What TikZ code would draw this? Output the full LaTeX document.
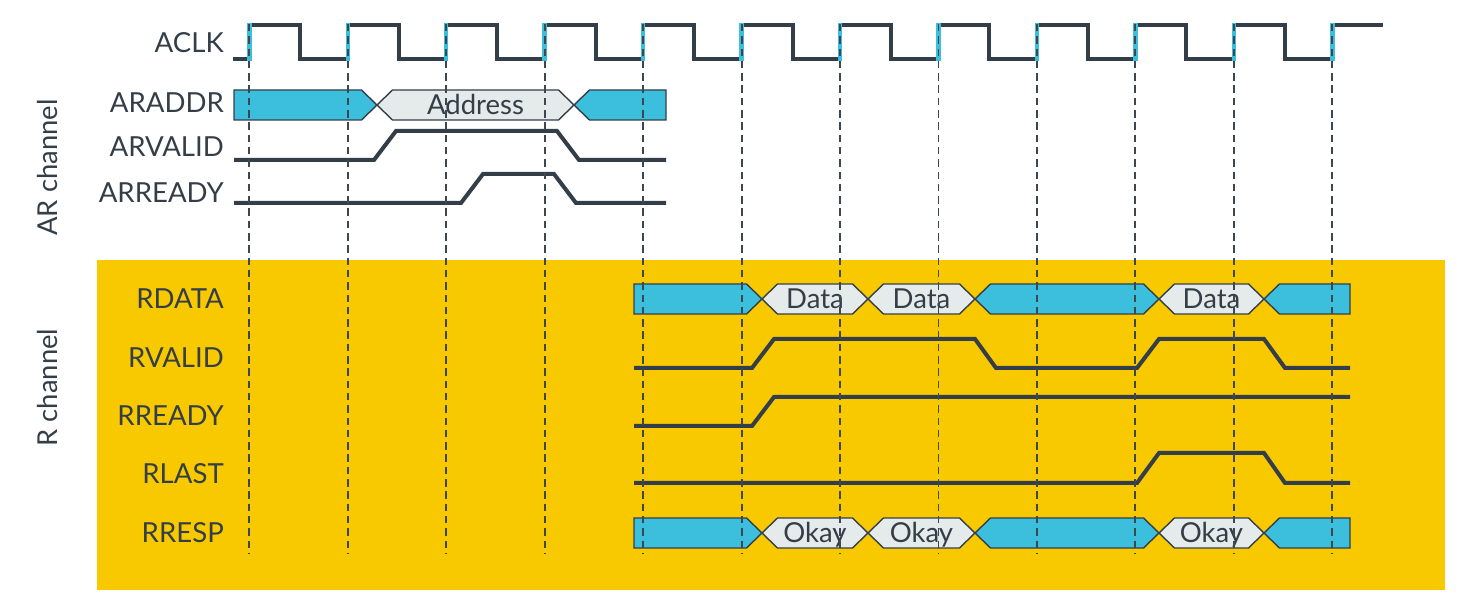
\documentclass[tikz,border=0pt]{standalone}
\usepackage{fontspec}
\setmainfont{Lato}
\definecolor{dark}{HTML}{333E48}
\definecolor{cyanbus}{HTML}{3BBFDD}
\definecolor{lightbox}{HTML}{E5EBEB}
\definecolor{ybg}{HTML}{F9C900}
\definecolor{dashc}{HTML}{3D4750}
\tikzset{
  sig/.style={draw=dark, line width=4pt, line join=miter},
  clkedge/.style={draw=cyanbus, line width=4.5pt},
  gridline/.style={draw=dashc, line width=1.9pt, dash pattern=on 7.5pt off 4.8pt},
  busfill/.style={draw=dark, line width=1.4pt, fill=cyanbus, line join=miter},
  valfill/.style={draw=dark, line width=1.4pt, fill=lightbox, line join=miter},
  siglabel/.style={anchor=base east, text=dark, font=\fontsize{27.6}{31}\selectfont, inner sep=0pt},
  chlabel/.style={anchor=base, rotate=90, text=dark, font=\fontsize{27.4}{31}\selectfont, inner sep=0pt},
  boxtext/.style={anchor=base, text=dark, font=\fontsize{27.5}{30}\selectfont, inner sep=0pt},
}
% value segment between two transition centres
\newcommand\busseg[6]{% name, t1, t2, yc, style, text
  \draw[#5] (#2,#4) -- ({#2+15.5},{#4-15}) -- ({#3-15.5},{#4-15}) -- (#3,#4) -- ({#3-15.5},{#4+15}) -- ({#2+15.5},{#4+15}) -- cycle;
  \node[boxtext] (#1) at ({(#2+#3)/2},{#4+9.5}) {#6};}
\newcommand\busstart[4]{% x0, t2, yc, style
  \draw[#4] (#1,{#3-15}) -- ({#2-15.5},{#3-15}) -- (#2,#3) -- ({#2-15.5},{#3+15}) -- (#1,{#3+15}) -- cycle;}
\newcommand\busend[4]{% t1, x1, yc, style
  \draw[#4] (#1,#3) -- ({#1+15.5},{#3-15}) -- (#2,{#3-15}) -- (#2,{#3+15}) -- ({#1+15.5},{#3+15}) -- cycle;}
\begin{document}
\begin{tikzpicture}[x=1pt,y=-1pt]
\useasboundingbox (0,0) rectangle (1476,609);
% background of R channel
\fill[ybg] (97,260) rectangle (1445,590);

% labels
\node[siglabel] (lclk) at (224,53) {ACLK};
\node[siglabel] (laddr) at (224,113) {ARADDR};
\node[siglabel] (larvalid) at (224,157) {ARVALID};
\node[siglabel] (larready) at (224,203) {ARREADY};
\node[siglabel] (lrdata) at (224,309) {RDATA};
\node[siglabel] (lrvalid) at (224,368) {RVALID};
\node[siglabel] (lrready) at (224,426) {RREADY};
\node[siglabel] (lrlast) at (224,483) {RLAST};
\node[siglabel] (lrresp) at (224,542) {RRESP};
\node[chlabel] (archan) at (57.5,167.5) {AR channel};
\node[chlabel] (rchan) at (57.5,387.5) {R channel};

% clock
\draw[sig] (233,59)
  foreach \k in {0,...,10} {
    -- ({249.3+98.45*\k},59) -- ({249.3+98.45*\k},25)
    -- ({300.3+98.45*\k},25) -- ({300.3+98.45*\k},59) }
  -- (1332.25,59) -- (1332.25,25) -- (1383,25);
\foreach \k in {0,...,11}
  \draw[clkedge] ({249.3+98.45*\k},61) -- ({249.3+98.45*\k},23);

% ARADDR
\busstart{234}{377}{105}{busfill}
\busseg{addr}{377}{574}{105}{valfill}{Address}
\busend{574}{666}{105}{busfill}

% ARVALID / ARREADY
\draw[sig] (234,160) -- (374,160) -- (396,131) -- (557,131) -- (579,160) -- (666,160);
\draw[sig] (234,203) -- (461,203) -- (483,174) -- (554,174) -- (576,203) -- (666,203);

% RDATA
\busstart{634}{762}{299}{busfill}
\busseg{d1}{762}{868}{299}{valfill}{Data}
\busseg{d2}{868}{975}{299}{valfill}{Data}
\busseg{d0}{975}{1159}{299}{busfill}{}
\busseg{d3}{1159}{1264}{299}{valfill}{Data}
\busend{1264}{1350}{299}{busfill}

% RVALID, RREADY, RLAST
\draw[sig] (634,368) -- (752,368) -- (774,339) -- (975,339) -- (996,368) -- (1137,368) -- (1159,339) -- (1264,339) -- (1285,368) -- (1350,368);
\draw[sig] (634,426) -- (752,426) -- (774,397) -- (1350,397);
\draw[sig] (634,483) -- (1137,483) -- (1159,453) -- (1264,453) -- (1285,483) -- (1350,483);

% RRESP
\busstart{634}{762}{533}{busfill}
\busseg{o1}{762}{868}{533}{valfill}{Okay}
\busseg{o2}{868}{975}{533}{valfill}{Okay}
\busseg{o0}{975}{1159}{533}{busfill}{}
\busseg{o3}{1159}{1264}{533}{valfill}{Okay}
\busend{1264}{1350}{533}{busfill}

% dashed clock-edge guides
\foreach \k in {0,...,11}
  \draw[gridline] ({249.3+98.45*\k},24) -- ({249.3+98.45*\k},553);
\end{tikzpicture}
\end{document}
